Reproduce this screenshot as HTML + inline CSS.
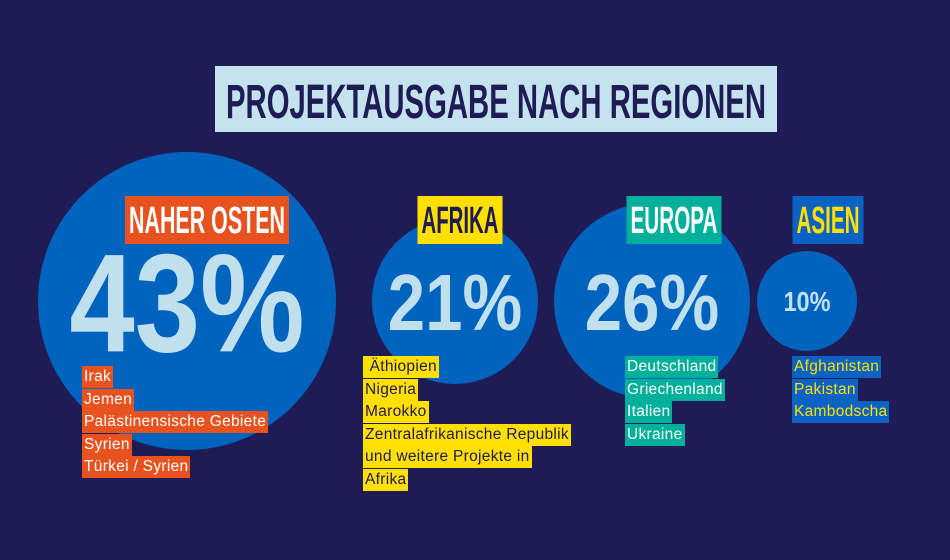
<!DOCTYPE html>
<html><head><meta charset="utf-8">
<style>
body{margin:0;width:950px;height:560px;background:#1f1b55;overflow:hidden;font-family:"Liberation Sans",sans-serif}
.list{position:absolute;font-size:15.5px;line-height:22.5px;letter-spacing:0.3px}
.list span{display:inline-block;padding:0 2px;line-height:22px;margin-bottom:0.5px}
.o span{background:#e8521f;color:#fff}
.y span{background:#ffe000;color:#1f1b55}
.t span{background:#00b09a;color:#fff}
.b span{background:#0a63c4;color:#ffe000}
</style></head><body>
<svg id="chart" width="950" height="560" style="position:absolute;left:0;top:0">
<rect x="215" y="66" width="562" height="66" fill="#c5e3ee"/>
<text x="496" y="118" text-anchor="middle" font-family="Liberation Sans" font-weight="bold" font-size="48" fill="#1f1b55" textLength="540" lengthAdjust="spacingAndGlyphs">PROJEKTAUSGABE NACH REGIONEN</text>
<g id="marks"></g>
</svg>
<div class="list o" style="left:82px;top:366px"><span>Irak</span><br><span>Jemen</span><br><span>Palästinensische Gebiete</span><br><span>Syrien</span><br><span>Türkei / Syrien</span></div>
<div class="list y" style="left:363px;top:356px"><span>&nbsp;Äthiopien</span><br><span>Nigeria</span><br><span>Marokko</span><br><span>Zentralafrikanische Republik</span><br><span>und weitere Projekte in</span><br><span>Afrika</span></div>
<div class="list t" style="left:625px;top:356px"><span>Deutschland</span><br><span>Griechenland</span><br><span>Italien</span><br><span>Ukraine</span></div>
<div class="list b" style="left:792px;top:356px"><span>Afghanistan</span><br><span>Pakistan</span><br><span>Kambodscha</span></div>
<script>
const regions = ["NAHER OSTEN","AFRIKA","EUROPA","ASIEN"];
const shares = [43,21,26,10];
const labelBg = ["#e8521f","#ffe000","#00b09a","#0a63c4"];
const labelFg = ["#ffffff","#1f1b55","#ffffff","#ffe000"];
const cx = [187,455,652,807];
const labelW = [164,85,95,71];
const NS="http://www.w3.org/2000/svg";
const g=document.getElementById('marks');
function rScale(v){return 20+3*v;}
function fs(v){return v>=40?140:(v>=20?80:28);}
function mk(t,a){const e=document.createElementNS(NS,t);for(const k in a)e.setAttribute(k,a[k]);return e;}
shares.forEach((v,i)=>{
  const c=mk('circle',{cx:cx[i],cy:301,r:rScale(v),fill:'#0063be'});
  
  
  g.appendChild(c);
  const f=fs(v);
  const t=mk('text',{x:cx[i],y:301+f*0.36,'text-anchor':'middle','font-family':'Liberation Sans','font-weight':'bold','font-size':f,fill:'#bfe0ec',textLength:f*1.68,lengthAdjust:'spacingAndGlyphs'});
  t.textContent=v+'%';
  
  
  g.appendChild(t);
  const lx=(i==0?125:cx[i]-labelW[i]/2+ (i==1?5:(i==2?22:21)));
  const r=mk('rect',{x:lx,y:196,width:labelW[i],height:48,fill:labelBg[i]});
  
  
  g.appendChild(r);
  const lt=mk('text',{x:lx+labelW[i]/2,y:233,'text-anchor':'middle','font-family':'Liberation Sans','font-weight':'bold','font-size':38,fill:labelFg[i],textLength:labelW[i]-8,lengthAdjust:'spacingAndGlyphs'});
  lt.textContent=regions[i];
  
  
  g.appendChild(lt);
});
</script>
</body></html>
